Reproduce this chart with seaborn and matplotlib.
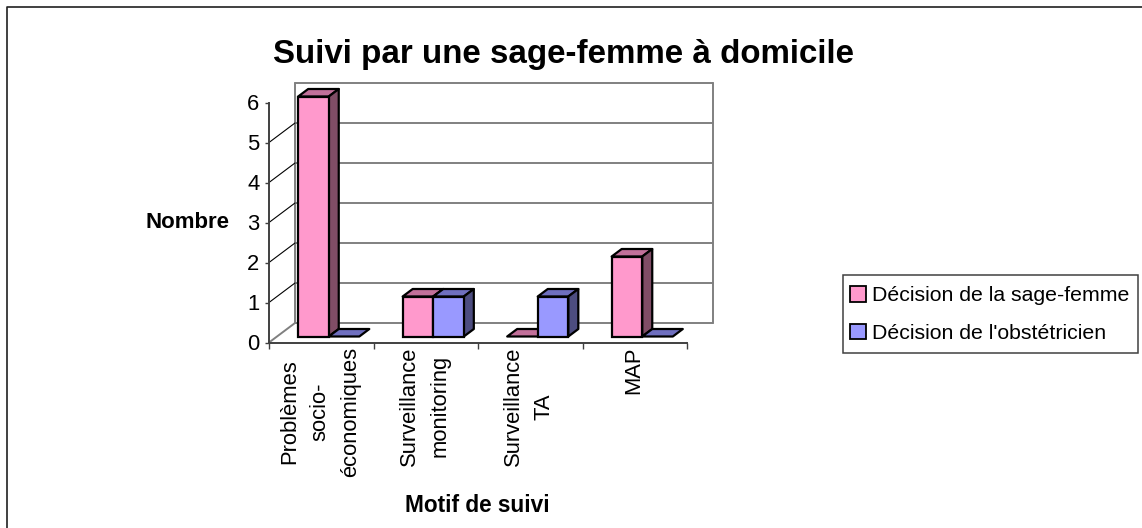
import numpy as np
import pandas as pd
import seaborn as sns
import matplotlib

matplotlib.use("Agg")
import matplotlib.pyplot as plt
from matplotlib.patches import Polygon, Rectangle
from matplotlib.transforms import Affine2D

categories = ["Problèmes\nsocio-\néconomiques", "Surveillance\nmonitoring", "Surveillance\nTA", "MAP"]
sage_femme = [6, 1, 0, 2]
obstetricien = [0, 1, 1, 0]
series_names = ["Décision de la sage-femme", "Décision de l'obstétricien"]
yticks = [0, 1, 2, 3, 4, 5, 6]

W, H = 1142, 528
front_colors = ["#FF99CC", "#9999FF"]
top_colors = ["#C2709A", "#6F6FBF"]
side_colors = ["#804D66", "#4D4D80"]
GRAY = "#808080"
# perspective offsets, in pixels
WALL_DX, WALL_DY = 26, 19.5
BAR_DX, BAR_DY = 7.5, 6
DEPTH_DX, DEPTH_DY = 10, 7.5


def px_box(left, top, right, bottom):
    return [left / W, 1 - bottom / H, (right - left) / W, (bottom - top) / H]


sns.set_style("white")
plt.rcParams["font.family"] = ["Liberation Sans", "DejaVu Sans"]
plt.rcParams["text.color"] = "black"
plt.rcParams["ytick.color"] = "black"

data = pd.DataFrame({"motif": categories * 2,
                     "nombre": sage_femme + obstetricien,
                     "serie": [series_names[0]] * 4 + [series_names[1]] * 4})

fig = plt.figure(figsize=(W / 100, H / 100), dpi=100, facecolor="white")
# outer frame: only the left and top edges are inside the picture
fig.add_artist(plt.Line2D([6.5 / W, 6.5 / W, 1], [0, 1 - 6.5 / H, 1 - 6.5 / H],
                          transform=fig.transFigure, color="#202020", lw=1.2))
ax = fig.add_axes(px_box(269, 102.5, 687, 342.5))
ax.patch.set_alpha(0)

sns.barplot(data=data, x="motif", y="nombre", hue="serie", palette=front_colors,
            width=0.585, gap=0, saturation=1, legend=False, ax=ax, zorder=5)
ax.set_xlim(-0.5, 3.5)
ax.set_ylim(0, 6)

wall = ax.transData + Affine2D().translate(WALL_DX, WALL_DY)
bar_shift = Affine2D().translate(BAR_DX, BAR_DY)
to_disp = ax.transData

# back wall and gridlines
for y in yticks:
    ax.plot([-0.5, 3.5], [y, y], transform=wall, color=GRAY, lw=1.4, clip_on=False, zorder=1)
ax.plot([3.5, 3.5], [0, 6], transform=wall, color=GRAY, lw=1.4, clip_on=False, zorder=1)
ax.plot([-0.5, -0.5], [0, 6], transform=wall, color=GRAY, lw=1.4, clip_on=False, zorder=1)

# side wall and floor edges, drawn in pixels from the axis positions
for y in yticks:
    x0, y0 = to_disp.transform((-0.5, y))
    col, lw = (GRAY, 1.4) if y in (0, 6) else ("black", 0.8)
    ax.add_line(plt.Line2D([x0, x0 + WALL_DX], [y0, y0 + WALL_DY], transform=None,
                           color=col, lw=lw, zorder=2))
x0, y0 = to_disp.transform((3.5, 0))
ax.add_line(plt.Line2D([x0, x0 + WALL_DX], [y0, y0 + WALL_DY], transform=None,
                       color="black", lw=0.8, zorder=2))

# bars: seaborn draws the front faces, side and top come from their extents
series_of = [0] * 4 + [1] * 4
bars = list(ax.patches)
for i, bar in enumerate(bars):
    s = series_of[i]
    (xa, ya), (xb, yb) = to_disp.transform([(bar.get_x(), 0),
                                            (bar.get_x() + bar.get_width(), bar.get_height())])
    xa, xb, ya, yb = xa + BAR_DX, xb + BAR_DX, ya + BAR_DY, yb + BAR_DY
    z = 4 + bar.get_x() / 10
    top = Polygon([(xa, yb), (xb, yb), (xb + DEPTH_DX, yb + DEPTH_DY), (xa + DEPTH_DX, yb + DEPTH_DY)],
                  closed=True, transform=None, facecolor=top_colors[s], edgecolor="black",
                  linewidth=1.6, joinstyle="round", zorder=z, clip_on=False)
    ax.add_artist(top)
    if bar.get_height() > 0:
        side = Polygon([(xb, ya), (xb + DEPTH_DX, ya + DEPTH_DY), (xb + DEPTH_DX, yb + DEPTH_DY), (xb, yb)],
                       closed=True, transform=None, facecolor=side_colors[s], edgecolor="black",
                       linewidth=1.6, joinstyle="round", zorder=z, clip_on=False)
        ax.add_artist(side)
        bar.set_transform(ax.transData + bar_shift)
        bar.set_edgecolor("black")
        bar.set_linewidth(1.6)
        bar.set_zorder(z + 0.01)
        bar.set_clip_on(False)
    else:
        bar.set_visible(False)

# axes
sns.despine(ax=ax, top=True, right=True)
for name in ["left", "bottom"]:
    ax.spines[name].set_color("#404040")
    ax.spines[name].set_linewidth(1.4)
    ax.spines[name].set_zorder(3)
ax.set_yticks(yticks)
ax.set_xticks(np.arange(-0.5, 4, 1))
ax.set_xticklabels([])
ax.tick_params(axis="y", length=3, width=1, color="#404040", labelsize=15.8, pad=4, left=True)
ax.tick_params(axis="x", length=4.5, width=1, color="#404040", bottom=True)
ax.set_xlabel("")
ax.set_ylabel("")

for i, label in enumerate(categories):
    ax.annotate(label, (i, 0), xytext=(-1, -3), textcoords="offset points", rotation=90,
                ha="center", va="top", multialignment="center", fontsize=15.8, linespacing=1.6,
                color="black")

fig.text(563.5 / W, 1 - 55 / H, "Suivi par une sage-femme à domicile", fontsize=23.9, fontweight="bold",
         ha="center", va="center")
fig.text(187.5 / W, 1 - 222 / H, "Nombre", fontsize=16, fontweight="bold", ha="center", va="center")
fig.text(477 / W, 1 - 505.5 / H, "Motif de suivi", fontsize=16.3, fontweight="bold", ha="center", va="center")

# legend, with its box drawn apart so the padding can differ from the row spacing
fig.add_artist(Rectangle((843 / W, 1 - 353 / H), 295 / W, 78 / H, transform=fig.transFigure,
                         facecolor="white", edgecolor="#404040", linewidth=1.1, zorder=3))
handles = [Rectangle((0, 0), 1, 1, facecolor=c, edgecolor="black", linewidth=1.3) for c in front_colors]
leg = fig.legend(handles, series_names, loc="center", bbox_to_anchor=(990 / W, 1 - 314.5 / H),
                 bbox_transform=fig.transFigure, frameon=False, fontsize=15.3,
                 handlelength=0.72, handleheight=0.72, handletextpad=0.3, labelspacing=0.85,
                 borderpad=0, borderaxespad=0)
leg.set_zorder(4)

fig.savefig("out.png", dpi=100, facecolor="white")
